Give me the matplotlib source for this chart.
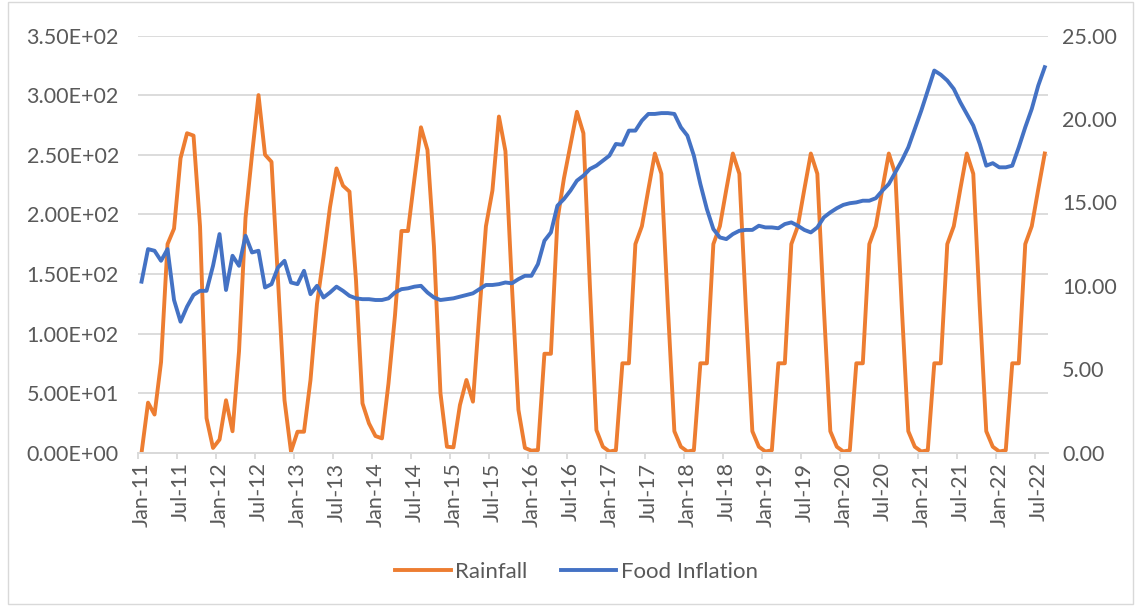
import numpy as np
import pandas as pd
import matplotlib
matplotlib.use("Agg")
import matplotlib.pyplot as plt
from matplotlib.ticker import FuncFormatter
from matplotlib.patches import Rectangle

plt.rcParams['font.family'] = ['Lato', 'DejaVu Sans']

# monthly series, Jan-2011 .. Aug-2022
months = pd.date_range('2011-01-01', '2022-08-01', freq='MS')

rain_2011 = [0, 42, 32, 76, 175, 188, 247, 268, 266, 190, 29, 4]
rain_2012 = [11, 44, 18, 85, 197, 250, 300, 250, 244, 145, 44, 1]
rain_2013 = [17.6, 17.6, 61, 125, 164, 206, 238.5, 224, 219, 145, 41.4, 24.6]
rain_2014 = [14, 12, 58, 115, 186, 186, 230, 273, 254, 173, 50, 5]
rain_2015 = [4.5, 40, 61, 42.8, 118, 190, 220, 282, 253, 140, 36, 4]
rain_2016 = [1.7, 2.2, 83, 83, 195, 230, 258, 286, 268, 140, 19, 5]
rain_normal = [1, 2, 75, 75, 175, 190, 221, 251, 234, 122, 18, 5]  # 2017-2021
rain_2022 = [1, 2, 75, 75, 175, 190, 221, 251]

rainfall = (rain_2011 + rain_2012 + rain_2013 + rain_2014 + rain_2015 + rain_2016
            + rain_normal * 5 + rain_2022)

food_inflation = [
    10.25, 12.2, 12.1, 11.5, 12.2, 9.15, 7.85, 8.75, 9.45, 9.7, 9.7, 11.2,
    13.1, 9.75, 11.8, 11.2, 13.0, 12.0, 12.1, 9.9, 10.1, 11.1, 11.5, 10.2,
    10.1, 10.9, 9.5, 10.0, 9.3, 9.6, 9.95, 9.7, 9.4, 9.25, 9.2, 9.2,
    9.15, 9.15, 9.25, 9.6, 9.8, 9.85, 9.95, 10.0, 9.6, 9.3, 9.15, 9.2,
    9.25, 9.35, 9.45, 9.55, 9.8, 10.05, 10.05, 10.1, 10.2, 10.15, 10.4, 10.6,
    10.6, 11.3, 12.7, 13.2, 14.8, 15.2, 15.7, 16.3, 16.6, 17.0, 17.2, 17.5,
    17.8, 18.5, 18.45, 19.3, 19.3, 19.9, 20.3, 20.3, 20.35, 20.35, 20.3, 19.5,
    19.0, 17.8, 16.1, 14.6, 13.4, 12.9, 12.8, 13.1, 13.3, 13.35, 13.35, 13.6,
    13.5, 13.5, 13.45, 13.7, 13.8, 13.6, 13.35, 13.2, 13.5, 14.1, 14.4, 14.65,
    14.85, 14.95, 15.0, 15.1, 15.1, 15.25, 15.7, 16.1, 16.8, 17.5, 18.3, 19.4,
    20.5, 21.7, 22.9, 22.65, 22.3, 21.8, 21.0, 20.3, 19.6, 18.5, 17.2, 17.35,
    17.1, 17.1, 17.2, 18.3, 19.5, 20.6, 22.0, 23.1,
]

month_labels = [d.strftime('%b-%y') for d in months]

ORANGE = '#ED7D31'
BLUE = '#4472C4'
GRID = '#D9D9D9'
TEXT = '#595959'
FS = 15.5

W, H = 1135, 606
fig = plt.figure(figsize=(W / 100, H / 100), dpi=100)
# chart-area border
fig.patches.append(Rectangle((8 / W, 2 / H), (1133 - 8) / W, (604 - 2) / H,
                             transform=fig.transFigure, fill=False,
                             edgecolor=GRID, lw=1.0))

left, right, top, bottom = 138.3, 1048, 35.5, 452.7
ax = fig.add_axes([left / W, 1 - bottom / H, (right - left) / W, (bottom - top) / H])
x = np.arange(len(months))

l1, = ax.plot(x, rainfall, color=ORANGE, lw=2.8, solid_joinstyle='round', label='Rainfall')
ax.set_xlim(-0.5, len(months) - 0.5)
ax.set_ylim(0, 350)
ax.set_yticks(np.arange(0, 351, 50))
ax.yaxis.set_major_formatter(FuncFormatter(lambda v, p: f"{v:.2E}"))
ax.yaxis.grid(True, color=GRID, lw=1.3)
ax.set_axisbelow(True)

ax.set_xticks(x[::6])
ax.set_xticklabels(month_labels[::6], rotation=90)
ax.set_xticks(np.arange(-0.5, len(months), 6), minor=True)
ax.tick_params(axis='x', which='major', length=0, pad=7, labelsize=FS, colors=TEXT)
ax.tick_params(axis='x', which='minor', length=4, width=1.3, color=GRID)
ax.tick_params(axis='y', length=0, pad=14, labelsize=FS, colors=TEXT)

ax2 = ax.twinx()
l2, = ax2.plot(x, food_inflation, color=BLUE, lw=2.8, solid_joinstyle='round', label='Food Inflation')
ax2.set_ylim(0, 25)
ax2.set_yticks(np.arange(0, 26, 5))
ax2.yaxis.set_major_formatter(FuncFormatter(lambda v, p: f"{v:.2f}"))
ax2.tick_params(axis='y', length=0, pad=10, labelsize=FS, colors=TEXT)

for a in (ax, ax2):
    for s in ('top', 'left', 'right'):
        a.spines[s].set_visible(False)
    a.spines['bottom'].set_color(GRID)
    a.spines['bottom'].set_linewidth(1.3)

fig.legend([l1, l2], ['Rainfall', 'Food Inflation'], loc='center',
           bbox_to_anchor=(0.508, 0.056), ncol=2, frameon=False, fontsize=FS + 0.5,
           handlelength=2.5, handletextpad=0.2, columnspacing=1.5, labelcolor=TEXT)

fig.savefig('out.png', dpi=100)
